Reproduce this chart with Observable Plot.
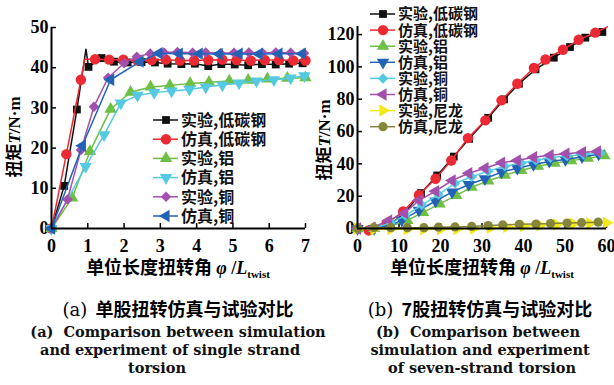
<!DOCTYPE html>
<html><head><meta charset="utf-8">
<script src="https://cdn.jsdelivr.net/npm/d3@7"></script>
<script src="https://cdn.jsdelivr.net/npm/@observablehq/plot@0.6"></script>
<style>
body{margin:0;background:#fff;}
#wrap{position:relative;width:614px;height:385px;overflow:hidden;background:#fff;}
.abs{position:absolute;white-space:nowrap;line-height:1;}
.cjk{font-family:"Noto Sans CJK SC";font-weight:700;}
.ser{font-family:"Liberation Serif";font-weight:700;}
.ytitle{font-size:17px;transform-origin:center;}
.xtitle{font-size:18px;}
.cap{font-family:"Noto Sans CJK SC";font-weight:700;font-size:18px;transform:translate(-50%,-50%);}
.en{font-family:"DejaVu Serif";font-weight:700;font-size:14.5px;transform:translate(-50%,-50%);color:#111;}
sub{font-size:11px;vertical-align:-4px;}
</style></head><body><div id="wrap"></div><script>
// ---------- Panel (a): single strand ----------
const aXTicks = [0,1,2,3,4,5,6,7];
const aYTicks = [0,10,20,30,40,50];
const aNames = ["实验,低碳钢","仿真,低碳钢","实验,铝","仿真,铝","实验,铜","仿真,铜"];
const aSteelExpX = [0,0.35,0.7,0.95,1.02,1.38,1.72,2.1,2.48,2.85,3.2,3.58,3.95,4.32,4.68,5.05,5.42,5.8,6.18,6.55,6.92];
const aSteelExpY = [0,10.6,29.6,44.6,40.2,42.4,41.5,41.3,41.4,41.3,41.0,40.9,41.0,40.4,40.9,40.8,40.6,40.9,40.8,41.0,41.1];
const aSteelSimX = [0,0.41,0.81,0.92,1.2,1.59,1.98,2.37,2.76,3.15,3.54,3.93,4.32,4.71,5.1,5.49,5.88,6.27,6.66,7.0];
const aSteelSimY = [0,18.5,37.0,42.1,42.1,42.0,42.0,41.8,41.9,42.0,41.8,41.8,41.9,42.0,41.9,41.8,41.9,41.9,41.8,41.8];
const aAlExpX = [0,0.57,1.06,1.63,2.18,2.73,3.26,3.82,4.34,4.9,5.42,5.95,6.5,7.0];
const aAlExpY = [0,7.6,19.2,29.7,33.9,35.2,35.6,36.1,36.4,36.7,36.9,37.2,37.4,37.5];
const aAlSimX = [0,0.94,1.45,1.91,2.37,2.83,3.31,3.8,4.25,4.71,5.17,5.65,6.13,6.59,6.97];
const aAlSimY = [0,15.4,23.3,31.2,33.1,33.8,34.2,34.6,35.2,35.7,36.2,36.7,37.0,37.4,38.0];
const aCuExpX = [0,0.44,0.81,1.17,1.56,2.0,2.35,2.72,3.1,3.47,3.89,4.25,4.66,5.03,5.44,5.81,6.18,6.59,6.96];
const aCuExpY = [0,7.2,19.5,30.3,37.5,41.1,42.7,43.5,43.8,43.9,43.7,43.8,43.6,43.7,43.8,43.7,43.8,43.7,43.6];
const aCuSimX = [0,0.85,1.63,2.44,2.96,3.52,4.07,4.62,5.17,5.72,6.27,6.91];
const aCuSimY = [0,20.6,37.0,41.5,43.6,43.5,43.5,43.4,43.5,43.4,43.5,43.5];

// ---------- Panel (b): seven strand ----------
const bXTicks = [0,10,20,30,40,50,60];
const bYTicks = [0,20,40,60,80,100,120];
const bNames = ["实验,低碳钢","仿真,低碳钢","实验,铝","仿真,铝","实验,铜","仿真,铜","实验,尼龙","仿真,尼龙"];
const bSteelExpX = [0,3,7,11,15.3,19.2,23.2,26.9,31.5,35.3,38.9,42.9,47.3,51.2,54.9,59];
const bSteelExpY = [0,-1,1.5,8.5,21.9,32.8,44.5,55.5,68.5,79.9,89.6,98.5,105.7,112.3,118.1,121.6];
const bSteelSimX = [0,2.7,7,11,14.8,18.8,22.6,26.6,30.8,34.7,38.5,42.5,45.3,49.5,53.3,57.3,60.2];
const bSteelSimY = [0,-1.2,3,10.5,20.8,30.8,42.1,55.9,66.9,79.3,89.6,99.3,104.6,110.6,116.8,121.2,124.8];
const bAlExpX = [0,4,8,12,15.8,19.8,23.8,27.5,31.5,35.5,39.5,43.5,47.5,51.5,55.5,59.5];
const bAlExpY = [0,0,1.5,5,10,15.2,20.5,25.5,29.5,33,36,38.5,40.5,42,43.5,45];
const bAlSimX = [0,4,7.8,10.7,14.8,18.8,22.8,26.8,30.7,34.7,38.5,42.4,46.2,50.1,54.1,58.1];
const bAlSimY = [0,0,2,5,11.2,17,22.5,27.2,30.8,34.9,37.3,39.6,41.5,42.7,44.3,46];
const bCuExpX = [0,4,8,11.5,15.5,19.5,23.5,27.5,31.5,35.5,39.5,43,46.5,50.5,54.5,58.5];
const bCuExpY = [0,0.3,3.5,8,14.5,21,28,32,35.5,38.5,40.5,42.3,43.8,44.8,45.8,46.8];
const bCuSimX = [0,3.5,7.5,11.3,14.8,18.8,22.8,26.8,30.7,34.7,38.5,42.4,46.4,50.2,54.2,57.8];
const bCuSimY = [0,0.5,5,9.5,17.3,23.1,29.7,34.2,37.3,40.7,42.1,44.1,45.4,46.3,47.2,47.7];
const bNyExpX = [0,4,8,12,16,20,24,28,32,36,40,44,48,52,56,60];
const bNyExpY = [0,-0.5,-0.5,-0.5,-0.5,-0.5,-0.3,0,0.5,1,1.5,2,2.5,3,3.2,3.5];
const bNySimX = [0,4,8,12,16,19.5,23.5,27.5,31.5,35,39,43,46.5,50.5,54,58];
const bNySimY = [0,0.5,0.5,0.5,0.5,0.8,1,1.3,1.8,2.2,2.6,2.8,3.1,3.4,3.6,3.9];

// ---------- styles ----------
const C = {black:"#111111", red:"#ec2a33", green:"#6dbf45", cyan:"#55c9e2", purple:"#a24fae", blue:"#2263b6", yellow:"#f3e81a", olive:"#86863a"};
const S = {
  square:{symbol:"square", rotate:0, r:4.4},
  circle:{symbol:"circle", rotate:0, r:5.2},
  up:{symbol:"triangle", rotate:0, r:4.6},
  down:{symbol:"triangle", rotate:180, r:4.6},
  left:{symbol:"triangle", rotate:-90, r:4.6},
  right:{symbol:"triangle", rotate:90, r:4.6},
  diamond:{symbol:"square", rotate:45, r:4.2},
  dot:{symbol:"circle", rotate:0, r:4.6}
};
const aSeries = [
  {x:aSteelExpX, y:aSteelExpY, color:C.black, sym:S.square, skip:[3]},
  {x:aSteelSimX, y:aSteelSimY, color:C.red, sym:S.circle, skip:[3]},
  {x:aAlExpX, y:aAlExpY, color:C.green, sym:S.up, skip:[]},
  {x:aAlSimX, y:aAlSimY, color:C.cyan, sym:S.down, skip:[]},
  {x:aCuExpX, y:aCuExpY, color:C.purple, sym:S.diamond, skip:[]},
  {x:aCuSimX, y:aCuSimY, color:C.blue, sym:S.left, skip:[]}
];
const bSeries = [
  {x:bSteelExpX, y:bSteelExpY, color:C.black, sym:S.square, skip:[]},
  {x:bSteelSimX, y:bSteelSimY, color:C.red, sym:S.circle, skip:[16]},
  {x:bAlExpX, y:bAlExpY, color:C.green, sym:S.up, skip:[]},
  {x:bAlSimX, y:bAlSimY, color:C.blue, sym:S.down, skip:[]},
  {x:bCuExpX, y:bCuExpY, color:C.cyan, sym:S.diamond, skip:[]},
  {x:bCuSimX, y:bCuSimY, color:C.purple, sym:S.left, skip:[]},
  {x:bNyExpX, y:bNyExpY, color:C.yellow, sym:S.right, skip:[]},
  {x:bNySimX, y:bNySimY, color:C.olive, sym:S.dot, skip:[]}
];

function seriesMarks(s) {
  const data = s.x.map((x, i) => ({x, y: s.y[i], i}));
  return [
    Plot.line(data, {x:"x", y:"y", stroke:s.color, strokeWidth:1.5}),
    Plot.dot(data.filter(d => !s.skip.includes(d.i)), {x:"x", y:"y", symbol:s.sym.symbol, rotate:s.sym.rotate, r:s.sym.r, fill:s.color})
  ];
}
function panel(series, xd, yd, xt, yt, geom) {
  return Plot.plot({
    width: geom.width, height: 260,
    marginLeft: geom.ml, marginRight: geom.mr, marginTop: geom.mt, marginBottom: 32,
    x: {domain: xd}, y: {domain: yd},
    style: {fontFamily:"Liberation Serif", fontSize:"18px", fontWeight:"bold", color:"#000", background:"transparent", overflow:"visible"},
    marks: [
      Plot.axisX(xt, {tickSize:-5, fill:"none", strokeWidth:1.5, label:null}),
      Plot.axisX(xt, {tickSize:0, tickPadding:11, label:null}),
      Plot.axisY(yt, {tickSize:-5, fill:"none", strokeWidth:1.5, label:null}),
      Plot.axisY(yt, {tickSize:0, tickPadding:3, label:null}),
      ...series.flatMap(seriesMarks),
      Plot.ruleX([xd[0]], {strokeWidth:2}),
      Plot.ruleY([yd[0]], {strokeWidth:2})
    ]
  });
}
const wrap = document.getElementById("wrap");
function place(el, left) {
  el.style.position = "absolute"; el.style.left = left + "px"; el.style.top = "0px";
  el.style.overflow = "visible"; el.style.maxWidth = "none";
  wrap.appendChild(el);
}
place(panel(aSeries, [0,7], [0,50], aXTicks, aYTicks, {width:310, ml:51, mr:5, mt:27}), 0);
place(panel(bSeries, [0,60], [0,125], bXTicks, bYTicks, {width:309, ml:52, mr:8, mt:26}), 305);

// ---------- legends ----------
const leg = d3.select(wrap).append("svg").attr("width",614).attr("height",385)
  .style("position","absolute").style("left","0").style("top","0").style("overflow","visible");
function legend(names, series, x0, y0, step, fs) {
  names.forEach((n, i) => {
    const s = series[i], y = y0 + i*step;
    leg.append("line").attr("x1",x0).attr("x2",x0+25).attr("y1",y).attr("y2",y).attr("stroke",s.color).attr("stroke-width",1.5);
    const sym = {square:d3.symbolSquare, circle:d3.symbolCircle, triangle:d3.symbolTriangle}[s.sym.symbol];
    leg.append("path").attr("d", d3.symbol(sym, Math.PI*s.sym.r*s.sym.r)())
      .attr("transform",`translate(${x0+13},${y}) rotate(${s.sym.rotate})`).attr("fill",s.color);
    leg.append("text").attr("x",x0+28).attr("y",y).attr("dy","0.36em")
      .attr("font-family","Noto Sans CJK SC").attr("font-weight",700).attr("font-size",fs).attr("fill","#111").text(n);
  });
}
legend(aNames, aSeries, 153, 120, 19.2, 16);
legend(bNames, bSeries, 370, 14, 16.1, 15);

// ---------- titles & captions ----------
function add(html, cls, style) {
  const d = document.createElement("div");
  d.className = "abs " + cls; d.setAttribute("style", style); d.innerHTML = html; wrap.appendChild(d);
}
const yTitle = '<span class="cjk">扭矩</span><i class="ser">T</i><span class="ser">/N·m</span>';
add(yTitle, "ytitle", "left:13px;top:137px;transform:translate(-50%,-50%) rotate(-90deg);");
add(yTitle, "ytitle", "left:323px;top:140px;transform:translate(-50%,-50%) rotate(-90deg);");
const xTitle = '<span class="cjk">单位长度扭转角 </span><i class="ser">φ</i><span class="ser"> /</span><i class="ser">L</i><sub class="ser">twist</sub>';
add(xTitle, "xtitle", "left:178px;top:268px;transform:translate(-50%,-50%);");
add(xTitle, "xtitle", "left:482px;top:268px;transform:translate(-50%,-50%);");
add('<span style="font-family:DejaVu Serif;font-weight:400">(a)</span>&nbsp;&nbsp;单股扭转仿真与试验对比', "cap", "left:178px;top:309px;");
add('<span style="font-family:DejaVu Serif;font-weight:400">(b)</span>&nbsp;&nbsp;7股扭转仿真与试验对比', "cap", "left:480px;top:309px;");
add("(a)&nbsp; Comparison between simulation", "en", "left:178px;top:332px;");
add("and experiment of single strand", "en", "left:170px;top:350px;");
add("torsion", "en", "left:157px;top:368px;");
add("(b)&nbsp; Comparison between", "en", "left:478px;top:332px;");
add("simulation and experiment", "en", "left:480px;top:350px;");
add("of seven-strand torsion", "en", "left:482px;top:368px;");
</script></body></html>
